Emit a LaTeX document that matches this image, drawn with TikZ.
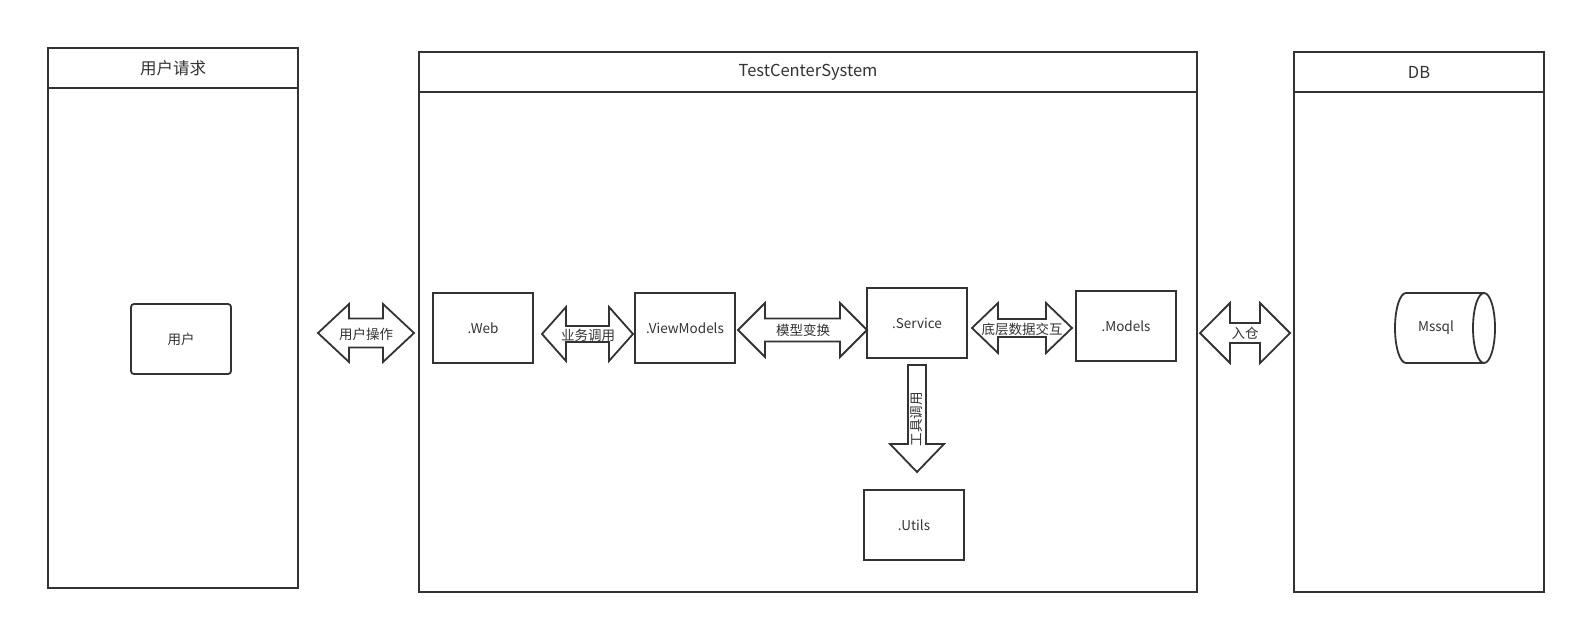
\documentclass[tikz,border=0pt]{standalone}
\usepackage{fontspec}
\setmainfont{Noto Sans CJK SC}
\definecolor{ink}{HTML}{333333}
\tikzset{
  shp/.style={draw=ink, line width=1.8pt, line join=miter, fill=white},
  box/.style={shp, minimum width=100pt, minimum height=70pt, inner sep=0pt, text=ink, font=\fontsize{13.5}{15}\selectfont},
  ttl/.style={text=ink, font=\fontsize{16.5}{19}\selectfont, inner sep=0pt},
  lbl/.style={text=ink, font=\fontsize{13.5}{15}\selectfont, inner sep=0pt},
}
% double arrow: x1, x2, cy, H, h, L
\newcommand\dblarw[6]{%
  \draw[shp] (#1,#3) -- (#1+#6,#3-#4) -- (#1+#6,#3-#5) -- (#2-#6,#3-#5) -- (#2-#6,#3-#4)
    -- (#2,#3) -- (#2-#6,#3+#4) -- (#2-#6,#3+#5) -- (#1+#6,#3+#5) -- (#1+#6,#3+#4) -- cycle;}
\begin{document}
\begin{tikzpicture}[x=1pt,y=-1pt]
\useasboundingbox (0,0) rectangle (1576,624);
% pools
\draw[shp] (48,48) rectangle (298,588);
\draw[shp] (48,88) -- (298,88);
\node[ttl] (t1) at (173,68) {用户请求};
\draw[shp] (419,52) rectangle (1197,592);
\draw[shp] (419,92) -- (1197,92);
\node[ttl] (t2) at (808,72) {TestCenterSystem};
\draw[shp] (1294,52) rectangle (1544,592);
\draw[shp] (1294,92) -- (1544,92);
\node[ttl] (t3) at (1419,72) {DB};
% boxes
\node[box, rounded corners=3pt] (user) at (181,339) {用户};
\node[box] (web) at (483,328) {.Web};
\node[box] (vm) at (685,328) {.ViewModels};
\node[box] (svc) at (917,323) {.Service};
\node[box] (mdl) at (1126,326) {.Models};
\node[box] (utl) at (914,525) {.Utils};
% cylinder
\draw[shp] (1406,293) -- (1484,293) -- (1484,363) -- (1406,363)
  arc[start angle=90, end angle=270, x radius=11, y radius=35] -- cycle;
\draw[shp] (1484,328) ellipse[x radius=11, y radius=35];
\node[lbl] (db) at (1436,328) {Mssql};
% double arrows
\dblarw{318}{414}{333}{29}{14.5}{31}
\node[lbl] (a1) at (366,334) {用户操作};
\dblarw{542}{633}{334}{27}{8}{24}
\node[lbl] (a2) at (588,335) {业务调用};
\dblarw{738}{867}{330}{27}{11.5}{27}
\node[lbl] (a3) at (803,330) {模型变换};
\dblarw{972}{1072}{328}{25}{9}{26}
\node[lbl] (a4) at (1022,329) {底层数据交互};
\dblarw{1200}{1290}{333}{30}{10}{30}
\node[lbl] (a5) at (1245,333) {入仓};
% down arrow
\draw[shp] (908,365) -- (926,365) -- (926,444) -- (944,444) -- (917,472) -- (890,444) -- (908,444) -- cycle;
\node[lbl, rotate=90] (a6) at (917,419) {工具调用};
\end{tikzpicture}
\end{document}
